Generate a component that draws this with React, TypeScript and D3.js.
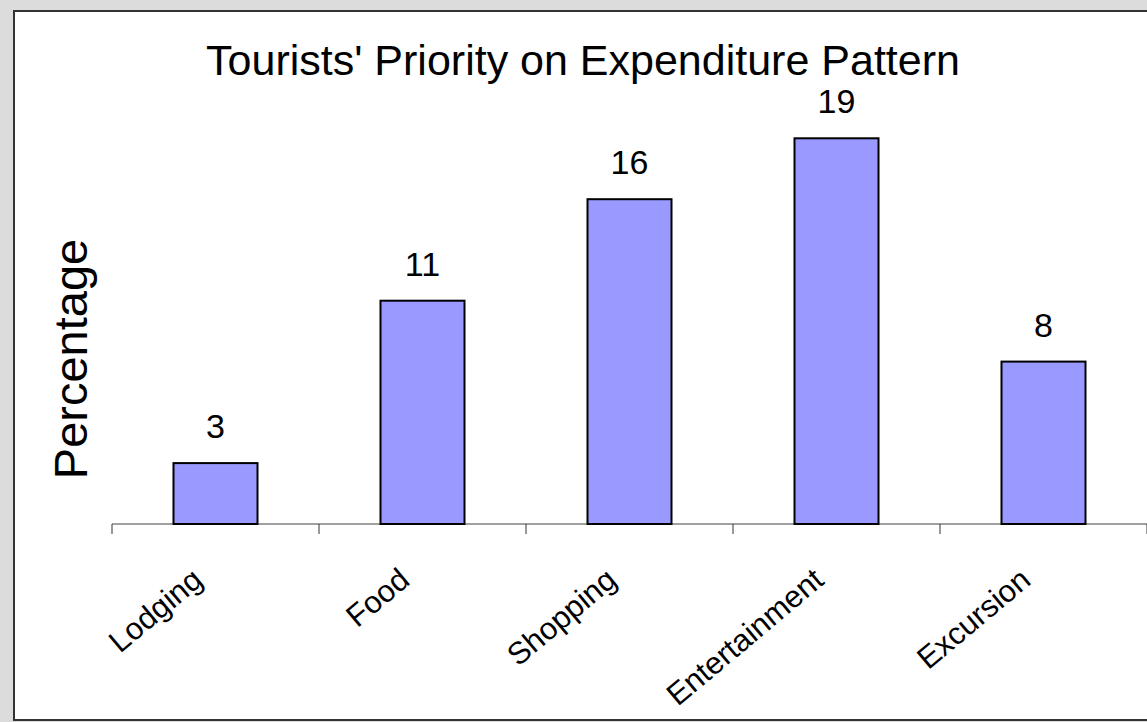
import React from "react";
import * as d3 from "d3";

const categories = ["Lodging", "Food", "Shopping", "Entertainment", "Excursion"];
const values = [3, 11, 16, 19, 8];
const title = "Tourists' Priority on Expenditure Pattern";
const yTitle = "Percentage";

const W = 1147;
const H = 722;
const FONT = "'Liberation Sans', Arial, Helvetica, sans-serif";

export default function App() {
  const x = d3
    .scaleBand<string>()
    .domain(categories)
    .range([112, 1147])
    .paddingInner(1 - 84 / 207)
    .paddingOuter((1 - 84 / 207) / 2);
  const step = x.step();
  const y = d3.scaleLinear().domain([0, 20]).range([524, 118]);
  const base = y(0);
  const tickXs = d3.range(categories.length + 1).map((i) => 112 + i * step);

  return (
    <svg
      width={W}
      height={H}
      style={{ position: "absolute", left: 0, top: 0, display: "block" }}
      fontFamily={FONT}
    >
      <rect x={0} y={0} width={W} height={H} fill="#dcdcdc" />
      <rect x={14} y={11} width={W + 20} height={709} fill="#ffffff" stroke="#333333" strokeWidth={2} />
      <text x={583} y={75} textAnchor="middle" fontSize={43} fill="#000">
        {title}
      </text>
      <text
        transform={`translate(87,359) rotate(-90)`}
        textAnchor="middle"
        fontSize={47}
        fill="#000"
      >
        {yTitle}
      </text>
      <line x1={112} x2={W} y1={base} y2={base} stroke="#808080" strokeWidth={1.5} />
      {tickXs.map((tx, i) => (
        <line key={i} x1={tx} x2={tx} y1={base} y2={base + 10} stroke="#333" strokeWidth={1} />
      ))}
      {categories.map((c, i) => {
        const bx = x(c) as number;
        const cx = bx + x.bandwidth() / 2;
        return (
          <g key={c}>
            <rect
              x={bx}
              y={y(values[i])}
              width={x.bandwidth()}
              height={base - y(values[i])}
              fill="#9999ff"
              stroke="#000"
              strokeWidth={2}
            />
            <text x={cx} y={y(values[i]) - 25} textAnchor="middle" fontSize={34} fill="#000">
              {values[i]}
            </text>
            <text
              transform={`translate(${cx - 11},${583}) rotate(-40)`}
              textAnchor="end"
              fontSize={31}
              fill="#000"
            >
              {c}
            </text>
          </g>
        );
      })}
    </svg>
  );
}
